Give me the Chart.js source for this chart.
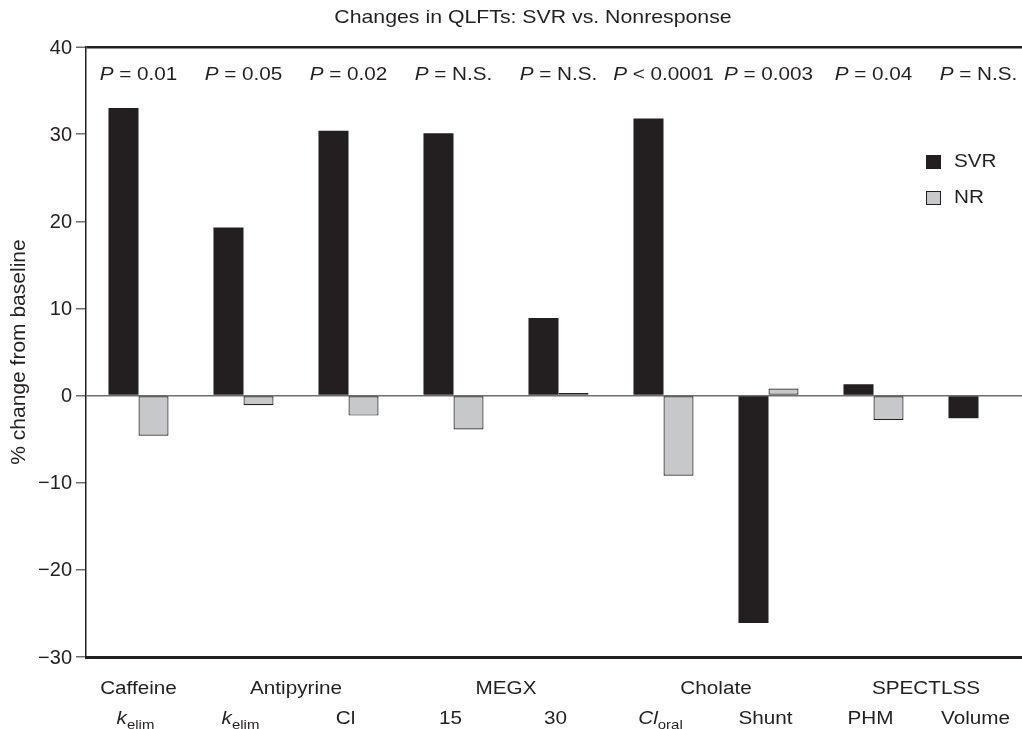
<!DOCTYPE html>
<html>
<head>
<meta charset="utf-8">
<script src="https://cdn.jsdelivr.net/npm/chart.js@4"></script>
<style>
  html, body { margin: 0; padding: 0; background: #fff; overflow: hidden; }
  #wrap { width: 1040px; height: 729px; }
</style>
</head>
<body>
<div id="wrap"><canvas id="chart" width="1040" height="729"></canvas></div>
<script>
// données
const categories = ['Caffeine kelim', 'Antipyrine kelim', 'Antipyrine Cl', 'MEGX 15', 'MEGX 30',
                    'Cholate Cloral', 'Cholate Shunt', 'SPECTLSS PHM', 'SPECTLSS Volume'];
const svrValues = [33.0, 19.3, 30.4, 30.1, 8.9, 31.8, -26.1, 1.3, -2.6];
const nrValues = [-4.6, -1.1, -2.3, -3.9, 0.3, -9.2, 0.8, -2.8, 0];
const pValues = ['= 0.01', '= 0.05', '= 0.02', '= N.S.', '= N.S.', '< 0.0001', '= 0.003', '= 0.04', '= N.S.'];
const groupNames = ['Caffeine', 'Antipyrine', 'MEGX', 'Cholate', 'SPECTLSS'];
const groupSpans = [[0, 0], [1, 2], [3, 4], [5, 6], [7, 8]];
// sous-libellés : [texte, italique, indice]
const subLabels = [
    [['k', true], ['elim', false, true]],
    [['k', true], ['elim', false, true]],
    [['Cl']],
    [['15']],
    [['30']],
    [['Cl', true], ['oral', false, true]],
    [['Shunt']],
    [['PHM']],
    [['Volume']]
];
const seriesNames = ['SVR', 'NR'];
const yMin = -30, yMax = 40, yStep = 10;

const ink = '#231f20';
const FONT = '"Liberation Sans", Arial, Helvetica, sans-serif';
const STRETCH = 1.15;

function runFont(r, size) {
    return (r[1] ? 'italic ' : '') + (r[2] ? Math.round(size * 0.72) : size) + 'px ' + FONT;
}

// texte riche, étiré horizontalement comme sur l'original
function drawRuns(ctx, runs, x, y, align, size) {
    let widths = runs.map(r => { ctx.font = runFont(r, size); return ctx.measureText(r[0]).width * STRETCH; });
    let total = widths.reduce((a, b) => a + b, 0);
    let pos = align === 'center' ? x - total / 2 : (align === 'right' ? x - total : x);
    runs.forEach((r, i) => {
        ctx.save();
        ctx.font = runFont(r, size);
        ctx.fillStyle = ink;
        ctx.textAlign = 'left';
        ctx.textBaseline = 'middle';
        ctx.translate(pos, y + (r[2] ? size * 0.35 : 0));
        ctx.scale(STRETCH, 1);
        ctx.fillText(r[0], 0, 0);
        ctx.restore();
        pos += widths[i];
    });
}

const annotations = {
    id: 'annotations',
    afterDraw(chart) {
        const ctx = chart.ctx;
        const xs = chart.scales.x, ys = chart.scales.y;
        const area = chart.chartArea;

        // titre
        drawRuns(ctx, [['Changes in QLFTs: SVR vs. Nonresponse']], 533, 18, 'center', 18.5);

        // valeurs P
        pValues.forEach((p, i) => {
            drawRuns(ctx, [['P', true], [' ' + p]], xs.getPixelForValue(i), 75, 'center', 18);
        });

        // graduations Y
        ys.ticks.forEach(t => {
            let y = ys.getPixelForValue(t.value);
            let lbl = t.value < 0 ? '\u2212' + Math.abs(t.value) : String(t.value);
            ctx.save();
            ctx.font = '20px ' + FONT;
            ctx.fillStyle = ink;
            ctx.textAlign = 'right';
            ctx.textBaseline = 'middle';
            ctx.fillText(lbl, 72, y + 1);
            ctx.restore();
        });

        // titre axe Y
        ctx.save();
        ctx.translate(19, (area.top + area.bottom) / 2);
        ctx.rotate(-Math.PI / 2);
        ctx.font = '21px ' + FONT;
        ctx.fillStyle = ink;
        ctx.textAlign = 'center';
        ctx.textBaseline = 'middle';
        ctx.fillText('% change from baseline', 0, 0);
        ctx.restore();

        // libellés X : groupes puis sous-libellés
        groupNames.forEach((g, i) => {
            let a = xs.getPixelForValue(groupSpans[i][0]), b = xs.getPixelForValue(groupSpans[i][1]);
            drawRuns(ctx, [[g]], (a + b) / 2, 689, 'center', 18);
        });
        subLabels.forEach((runs, i) => {
            drawRuns(ctx, runs, xs.getPixelForValue(i) - 3, 719, 'center', 18);
        });

        // légende
        chart.data.datasets.forEach((ds, i) => {
            let y = 162 + i * 36;
            ctx.save();
            ctx.fillStyle = ds.backgroundColor;
            ctx.fillRect(926, y - 7, 15, 14);
            ctx.strokeStyle = ink;
            ctx.lineWidth = 1;
            ctx.strokeRect(926.5, y - 6.5, 14, 13);
            ctx.restore();
            drawRuns(ctx, [[ds.label]], 954, y, 'left', 18);
        });
    }
};

new Chart(document.getElementById('chart'), {
    type: 'bar',
    data: {
        labels: categories,
        datasets: [
            { label: seriesNames[0], data: svrValues, backgroundColor: ink, borderWidth: 0,
              categoryPercentage: 0.572, barPercentage: 1.0 },
            { label: seriesNames[1], data: nrValues, backgroundColor: '#c7c8ca', borderColor: ink,
              borderWidth: 1.2, borderSkipped: false, categoryPercentage: 0.572, barPercentage: 1.0 }
        ]
    },
    options: {
        responsive: false,
        animation: false,
        layout: { padding: { top: 47, right: 9, left: 0, bottom: 0 } },
        plugins: { legend: { display: false }, title: { display: false }, tooltip: { enabled: false } },
        scales: {
            x: {
                ticks: { display: false },
                grid: { display: false },
                border: { display: true, color: ink, width: 3 },
                afterFit(scale) { scale.height = 72; }
            },
            y: {
                min: yMin, max: yMax,
                ticks: { display: false, stepSize: yStep },
                grid: {
                    color: c => c.tick.value === 0 ? '#6d6e70' : (c.tick.value === yMax ? ink : 'rgba(0,0,0,0)'),
                    lineWidth: c => c.tick.value === yMax ? 2.5 : 1.5,
                    tickColor: '#6d6e70',
                    tickLength: 10,
                    tickWidth: 1.5
                },
                border: { display: true, color: ink, width: 1.5 },
                afterFit(scale) { scale.width = 86; }
            }
        }
    },
    plugins: [annotations]
});
</script>
</body>
</html>
